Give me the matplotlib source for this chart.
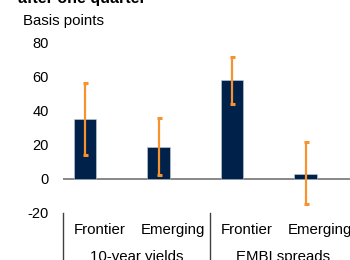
import matplotlib
matplotlib.use("Agg")
import matplotlib.pyplot as plt
import matplotlib.transforms as mtransforms
import numpy as np

plt.rcParams['font.family'] = ['Liberation Sans', 'DejaVu Sans']

categories = ["Frontier", "Emerging", "Frontier", "Emerging"]
groups = ["10-year yields", "EMBI spreads"]
values = [35, 18.5, 57.5, 3]
low = [14, 2, 44, -15]
high = [56, 35.5, 71.5, 21.5]
yticks = [-20, 0, 20, 40, 60, 80]

bar_color = "#00214A"
err_color = "#F7922E"
fs = 10.8

fig = plt.figure(figsize=(3.5, 2.6), dpi=100)
ax = fig.add_axes([63/350, (260-213)/260, (357-63)/350, 171/260])

x = np.arange(len(values))
ax.bar(x, values, width=0.31, color=bar_color, edgecolor="#c8d0da", linewidth=0.4, zorder=2)
yerr = [np.array(values) - np.array(low), np.array(high) - np.array(values)]
ax.errorbar(x, values, yerr=yerr, fmt='none', ecolor=err_color, elinewidth=1.6,
            capsize=1.8, capthick=2.2, zorder=3)

ax.axhline(0, color="#7f7f7f", linewidth=1.3, zorder=1)

ax.set_xlim(-0.3, 3.7)
ax.set_ylim(-20, 80)
ax.set_yticks(yticks)
ax.set_yticklabels([str(t) for t in yticks])
ax.tick_params(axis='y', length=0, pad=10, labelsize=10.5, colors="#000000")
ax.set_xticks(x + 0.2)
ax.set_xticklabels(categories)
ax.tick_params(axis='x', length=0, pad=7.5, labelsize=fs)
for s in ax.spines.values():
    s.set_visible(False)

trans = mtransforms.blended_transform_factory(ax.transData, ax.transAxes)
for sx in [-0.3, 1.7, 3.7]:
    ax.plot([sx, sx], [0, -0.4], transform=trans, color="#404040", linewidth=1.0, clip_on=False)
for gi, g in enumerate(groups):
    ax.text(gi * 2 + 0.7, -0.278, g, transform=trans, ha='center', va='baseline', fontsize=fs)

fig.text(23/350, (260-24.5)/260, "Basis points", ha='left', va='baseline', fontsize=fs)
fig.text(18/350, (260-3)/260, "after one quarter", ha='left', va='baseline', fontsize=11.5, fontweight='bold')

fig.savefig("out.png", dpi=100)
